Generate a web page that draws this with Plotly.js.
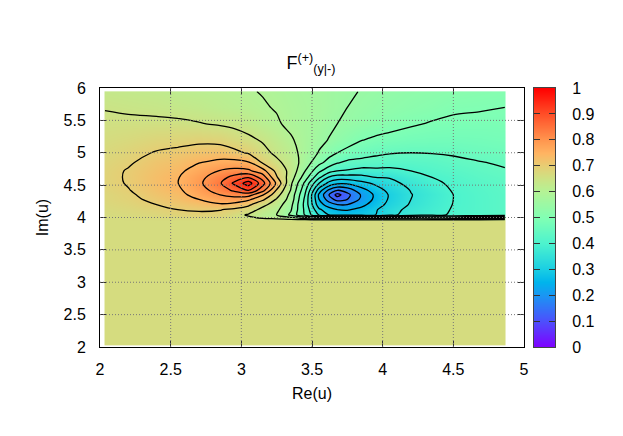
<!DOCTYPE html>
<html>
<head>
<meta charset="utf-8">
<script src="https://cdn.plot.ly/plotly-3.0.1.min.js"></script>
<style>html,body{margin:0;padding:0;background:#fff}</style>
</head>
<body>
<div id="chart" style="width:623px;height:436px"></div>
<script>
const reU = [2.035,2.2,2.4,2.55,2.7,2.85,2.95,3.05,3.15,3.25,3.35,3.45,3.55,3.62,3.68,3.75,3.85,3.95,4.05,4.2,4.35,4.5,4.68,4.865];
const imU = [2.03,3.96,4.04,4.12,4.2,4.28,4.35,4.42,4.53,4.62,4.72,4.85,5.0,5.2,5.45,5.7,5.945];

const f203 = [.667,.667,.667,.667,.667,.667,.667,.667,.667,.667,.667,.667,.667,.667,.667,.667,.667,.667,.667,.667,.667,.667,.667,.667];
const f396 = [.667,.667,.667,.667,.667,.667,.667,.667,.667,.667,.667,.667,.667,.667,.667,.667,.667,.667,.667,.667,.667,.667,.667,.667];
const f404 = [.668,.672,.678,.685,.69,.684,.665,.645,.615,.60,.54,.445,.345,.30,.285,.285,.29,.30,.335,.375,.39,.405,.415,.43];
const f412 = [.672,.678,.688,.70,.705,.702,.69,.675,.635,.61,.555,.44,.31,.27,.25,.245,.265,.295,.33,.365,.385,.403,.415,.43];
const f420 = [.676,.684,.70,.712,.725,.745,.735,.71,.665,.625,.565,.435,.27,.225,.20,.20,.235,.275,.315,.355,.38,.401,.415,.43];
const f428 = [.68,.69,.71,.725,.75,.775,.78,.76,.71,.645,.58,.44,.25,.175,.13,.15,.21,.262,.307,.35,.378,.40,.415,.43];
const f435 = [.68,.693,.718,.733,.77,.80,.815,.82,.755,.67,.585,.45,.24,.15,.08,.135,.205,.26,.305,.348,.375,.40,.416,.43];
const f442 = [.684,.698,.724,.741,.78,.822,.86,.90,.82,.695,.598,.465,.275,.19,.15,.17,.23,.275,.315,.352,.38,.403,.418,.432];
const f453 = [.687,.703,.73,.749,.79,.845,.91,.975,.87,.74,.61,.49,.35,.285,.26,.26,.285,.31,.335,.365,.39,.408,.423,.436];
const f462 = [.688,.704,.73,.747,.785,.83,.868,.895,.83,.705,.625,.525,.41,.345,.325,.325,.335,.35,.353,.38,.40,.415,.43,.44];
const f472 = [.687,.703,.726,.74,.77,.803,.815,.81,.77,.685,.635,.552,.46,.42,.40,.395,.38,.385,.385,.40,.415,.425,.437,.447];
const f485 = [.682,.695,.718,.727,.748,.762,.765,.755,.695,.66,.63,.577,.515,.48,.455,.44,.435,.43,.425,.425,.43,.44,.448,.455];
const f500 = [.675,.687,.703,.711,.72,.725,.712,.695,.665,.64,.618,.582,.547,.52,.50,.485,.47,.46,.453,.45,.452,.455,.463,.468];
const f520 = [.667,.673,.683,.685,.69,.685,.672,.66,.645,.625,.605,.582,.562,.548,.535,.522,.502,.492,.487,.48,.477,.476,.478,.482];
const f545 = [.658,.658,.658,.657,.652,.645,.64,.63,.615,.605,.59,.58,.57,.56,.55,.545,.535,.525,.515,.505,.497,.494,.492,.492];
const f570 = [.648,.644,.64,.635,.63,.62,.615,.61,.604,.597,.587,.58,.572,.565,.56,.55,.543,.537,.53,.522,.515,.505,.503,.50];
const f595 = [.636,.632,.628,.622,.617,.612,.607,.603,.598,.591,.583,.577,.57,.565,.56,.556,.548,.543,.537,.53,.525,.52,.515,.51];
const fGrid = [f203,f396,f404,f412,f420,f428,f435,f442,f453,f462,f472,f485,f500,f520,f545,f570,f595];

const paletteStops = [
  [0,'rgb(127,0,255)'],[.1,'rgb(77,79,252)'],[.2,'rgb(26,150,243)'],[.25,'rgb(0,180,236)'],
  [.3,'rgb(26,206,227)'],[.4,'rgb(77,243,206)'],[.5,'rgb(128,255,180)'],[.6,'rgb(179,243,150)'],
  [.65,'rgb(204,227,133)'],[.7,'rgb(230,206,116)'],[.75,'rgb(255,180,98)'],[.8,'rgb(255,150,79)'],
  [.9,'rgb(255,79,40)'],[1,'rgb(255,0,0)']];

const xTicks = [2,2.5,3,3.5,4,4.5,5];
const yTicks = [2,2.5,3,3.5,4,4.5,5,5.5,6];
const barTicks = [0,.1,.2,.3,.4,.5,.6,.7,.8,.9,1];
const barTickText = ['0','0.1','0.2','0.3','0.4','0.5','0.6','0.7','0.8','0.9','1'];

// A heatmap pads half a cell beyond its outer centres; thin duplicate cells keep it to the sampled area.
const pad = a => [a[0]-.002, a[0]].concat(a.slice(1,-1), [a[a.length-1], a[a.length-1]+.002]);
const padRow = r => [r[0]].concat(r, [r[r.length-1]]);
const heatGrid = [padRow(fGrid[0])].concat(fGrid.map(padRow), [padRow(fGrid[fGrid.length-1])]);

const W = 623, H = 436;
const font = {family:'"Liberation Sans", Arial, sans-serif', size:16, color:'#000'};
const axisCommon = {showgrid:false, zeroline:false, showline:true, linecolor:'#000', linewidth:1,
  mirror:'ticks', ticks:'inside', ticklen:6, tickcolor:'#333', tickwidth:1, layer:'above traces', tickfont:font, fixedrange:true};

const gridLine = {color:'#777', width:1, dash:'1px,2px'};
const grid = [];
xTicks.slice(1,-1).forEach(v => grid.push({type:'line', xref:'x', yref:'y', x0:v, x1:v, y0:2, y1:6, layer:'above', line:gridLine}));
yTicks.slice(1,-1).forEach(v => grid.push({type:'line', xref:'x', yref:'y', x0:2, x1:5, y0:v, y1:v, layer:'above', line:gridLine}));

const traces = [
  {type:'heatmap', x:pad(reU), y:pad(imU), z:heatGrid, colorscale:paletteStops, zmin:0, zmax:1, zsmooth:'best', showscale:false, xaxis:'x', yaxis:'y', hoverinfo:'skip'},
  {type:'contour', x:reU, y:imU, z:fGrid, zmin:0, zmax:1, showscale:false, xaxis:'x', yaxis:'y', hoverinfo:'skip',
   contours:{coloring:'none', start:.05, end:.95, size:.05, showlabels:false}, line:{color:'#000', width:1.3, smoothing:.8}},
  {type:'heatmap', x:[0,1], y:barTicks, z:barTicks.map(v => [v,v]), colorscale:paletteStops, zmin:0, zmax:1, zsmooth:'best', showscale:false, xaxis:'x2', yaxis:'y2', hoverinfo:'skip'}
];

const layout = {
  width:W, height:H, margin:{l:0,r:0,t:0,b:0}, paper_bgcolor:'#fff', plot_bgcolor:'#fff', font:font, showlegend:false,
  title:{text:'F<sup>(+)</sup><sub>(y|-)</sub>', x:311/W, xanchor:'center', y:1-63/H, yanchor:'middle', font:{family:font.family, size:18, color:'#000'}},
  xaxis:Object.assign({}, axisCommon, {domain:[100/W,524/W], range:[2,5], tickvals:xTicks, ticktext:xTicks.map(String), ticklabelstandoff:8, anchor:'y',
    title:{text:'Re(u)', font:font, standoff:10}}),
  yaxis:Object.assign({}, axisCommon, {domain:[(H-347)/H,(H-88)/H], range:[2,6], tickvals:yTicks, ticktext:yTicks.map(String), ticklabelstandoff:10, anchor:'x',
    title:{text:'Im(u)', font:font, standoff:10}}),
  xaxis2:{domain:[534/W,555/W], range:[0,1], anchor:'y2', showgrid:false, zeroline:false, showticklabels:false, ticks:'', showline:true, mirror:true, linecolor:'#444', linewidth:1, fixedrange:true},
  yaxis2:Object.assign({}, axisCommon, {domain:[(H-347)/H,(H-88)/H], range:[0,1], anchor:'x2', side:'right', linecolor:'#444', tickvals:barTicks, ticktext:barTickText, ticklabelstandoff:13}),
  shapes:grid
};
Plotly.newPlot('chart', traces, layout, {displayModeBar:false, staticPlot:true});
</script>
</body>
</html>
